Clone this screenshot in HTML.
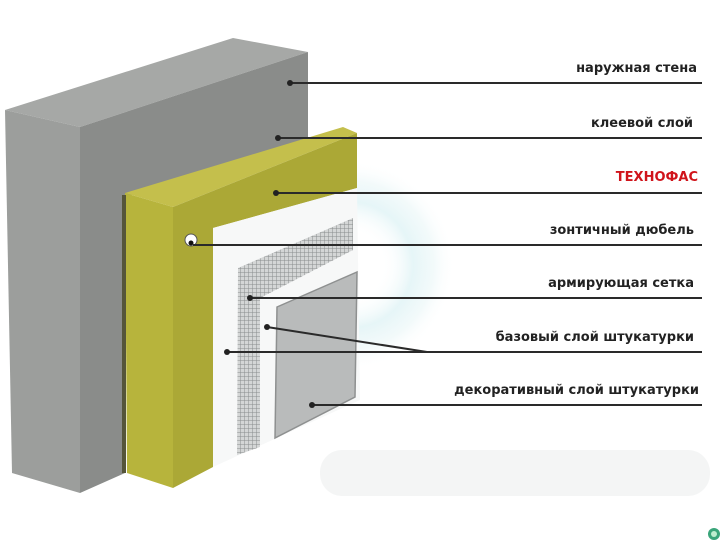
<!DOCTYPE html>
<html><head><meta charset="utf-8"><style>
html,body{margin:0;padding:0;background:#fff;}
svg{display:block;}
text{font-family:"DejaVu Sans","Liberation Sans",sans-serif;font-weight:bold;font-size:13px;fill:#222;}
</style></head><body>
<svg width="720" height="540" viewBox="0 0 720 540">
<defs>
<pattern id="mesh" width="4" height="4" patternUnits="userSpaceOnUse">
<rect width="4" height="4" fill="#d4d6d6"/><path d="M0 0H4M0 0V4" stroke="#8a8d8e" stroke-width="1"/>
</pattern>
<radialGradient id="halo" cx="0.5" cy="0.5" r="0.5">
<stop offset="0.3" stop-color="#fff" stop-opacity="0"/>
<stop offset="0.6" stop-color="#d5eff2" stop-opacity="0.6"/>
<stop offset="0.8" stop-color="#e6f5f6" stop-opacity="0.5"/>
<stop offset="1" stop-color="#fff" stop-opacity="0"/>
</radialGradient>
</defs>
<circle cx="350" cy="265" r="105" fill="url(#halo)"/>
<!-- floor shadow -->
<rect x="320" y="450" width="390" height="46" rx="22" fill="#f4f5f5"/>
<!-- concrete -->
<polygon points="5,110 233,38 308,52 80,127" fill="#a6a8a6"/>
<polygon points="5,110 80,127 80,493 12,473" fill="#9c9e9c"/>
<polygon points="80,127 308,52 308,140 125,197 125,473 80,493" fill="#8a8c8a"/>
<!-- yellow insulation -->
<polygon points="125,193 343,127 357,133 173,207" fill="#c4bf4c"/>
<polygon points="125,193 173,207 173,488 127,473" fill="#b7b43c"/>
<polygon points="173,207 357,133 357,188 213,228 213,467 173,488" fill="#aba836"/>
<rect x="122" y="195" width="4" height="278" fill="#55553a"/>
<!-- white panel -->
<polygon points="213,228 357,188 360,400 213,467" fill="#f7f8f8"/>
<!-- mesh -->
<polygon points="238,268 353,218 353,250 260,298 260,447 237,455" fill="url(#mesh)"/>
<!-- decorative panel -->
<polygon points="277,307 357,272 355,397 275,438" fill="#b9bbbb" stroke="#8e9090" stroke-width="1.5"/>
<!-- dowel -->
<circle cx="191" cy="240" r="6" fill="#fff" stroke="#555" stroke-width="1"/>
<circle cx="191" cy="243" r="2.5" fill="#111"/>
<!-- leader lines -->
<g stroke="#2a2a2a" stroke-width="2" fill="none">
<line x1="290" y1="83" x2="702" y2="83"/>
<line x1="278" y1="138" x2="702" y2="138"/>
<line x1="276" y1="193" x2="702" y2="193"/>
<line x1="193" y1="245" x2="702" y2="245"/>
<line x1="250" y1="298" x2="702" y2="298"/>
<line x1="267" y1="327" x2="427" y2="352"/>
<line x1="227" y1="352" x2="702" y2="352"/>
<line x1="312" y1="405" x2="702" y2="405"/>
</g>
<g fill="#222">
<circle cx="290" cy="83" r="3"/><circle cx="278" cy="138" r="3"/><circle cx="276" cy="193" r="3"/>
<circle cx="250" cy="298" r="3"/><circle cx="267" cy="327" r="3"/><circle cx="227" cy="352" r="3"/><circle cx="312" cy="405" r="3"/>
</g>
<g text-anchor="end">
<text x="697" y="72">наружная стена</text>
<text x="693" y="127">клеевой слой</text>
<text x="698" y="181" style="fill:#d0141b">ТЕХНОФАС</text>
<text x="694" y="234">зонтичный дюбель</text>
<text x="694" y="287">армирующая сетка</text>
<text x="694" y="341">базовый слой штукатурки</text>
<text x="699" y="394">декоративный слой штукатурки</text>
</g>
<circle cx="714" cy="534" r="6" fill="#3aa57a"/><circle cx="714" cy="534" r="3" fill="#bfeecf"/>
</svg>
</body></html>
